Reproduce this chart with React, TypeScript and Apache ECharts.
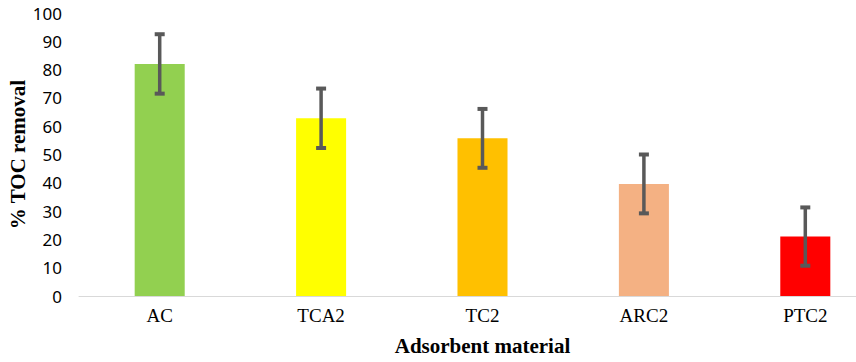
import React, { useEffect, useRef } from "react";
import * as echarts from "echarts";

const categories = ["AC", "TCA2", "TC2", "ARC2", "PTC2"];
const values = [82, 62.8, 55.7, 39.6, 21];
const errors = [10.5, 10.5, 10.4, 10.4, 10.3];
const barColors = ["#92D050", "#FFFF00", "#FFC000", "#F4B183", "#FF0000"];
const yTicks = { min: 0, max: 100, interval: 10 };

export default function App() {
  const ref = useRef<HTMLDivElement>(null);
  useEffect(() => {
    if (!ref.current) return;
    const chart = echarts.init(ref.current, null, { renderer: "svg" });
    const serif = "'Times New Roman', 'Liberation Serif', serif";
    chart.setOption({
      animation: false,
      backgroundColor: "#ffffff",
      grid: { left: 79, right: -30, top: 13, bottom: 66, containLabel: false, outerBoundsMode: "none" },
      xAxis: {
        type: "category",
        data: categories,
        axisLine: { lineStyle: { color: "#D9D9D9", width: 1 } },
        axisTick: { show: false },
        axisLabel: { color: "#000", fontFamily: serif, fontSize: 19, margin: 10 },
        name: "Adsorbent material",
        nameLocation: "middle",
        nameGap: 39,
        nameMoveOverlap: false,
        nameTextStyle: { color: "#000", fontFamily: serif, fontSize: 21, fontWeight: "bold" },
      },
      yAxis: {
        type: "value",
        min: yTicks.min,
        max: yTicks.max,
        interval: yTicks.interval,
        splitLine: { show: false },
        axisLine: { show: false },
        axisTick: { show: false },
        axisLabel: { color: "#000", fontFamily: "'Noto Sans', sans-serif", fontSize: 17, margin: 17 },
        name: "% TOC removal",
        nameLocation: "middle",
        nameGap: 51,
        nameMoveOverlap: false,
        nameTextStyle: { color: "#000", fontFamily: serif, fontSize: 21, fontWeight: "bold" },
      },
      series: [
        {
          type: "bar",
          data: values.map((v, i) => ({ value: v, itemStyle: { color: barColors[i] } })),
          barWidth: "31%",
        },
        {
          type: "custom",
          data: values.map((v, i) => [i, v - errors[i], v + errors[i]]),
          renderItem: (params: any, api: any) => {
            const x = api.value(0);
            const lo = api.coord([x, api.value(1)]);
            const hi = api.coord([x, api.value(2)]);
            const cw = 5;
            const style = { stroke: "#595959", lineWidth: 3.5 };
            return {
              type: "group",
              children: [
                { type: "line", shape: { x1: hi[0], y1: hi[1], x2: lo[0], y2: lo[1] }, style },
                { type: "line", shape: { x1: hi[0] - cw, y1: hi[1], x2: hi[0] + cw, y2: hi[1] }, style: { ...style, lineWidth: 4 } },
                { type: "line", shape: { x1: lo[0] - cw, y1: lo[1], x2: lo[0] + cw, y2: lo[1] }, style: { ...style, lineWidth: 4 } },
              ],
            };
          },
          z: 10,
        },
      ],
    });
    return () => chart.dispose();
  }, []);
  return (
    <div
      ref={ref}
      style={{ position: "absolute", left: 0, top: 0, width: 856, height: 362 }}
    />
  );
}
